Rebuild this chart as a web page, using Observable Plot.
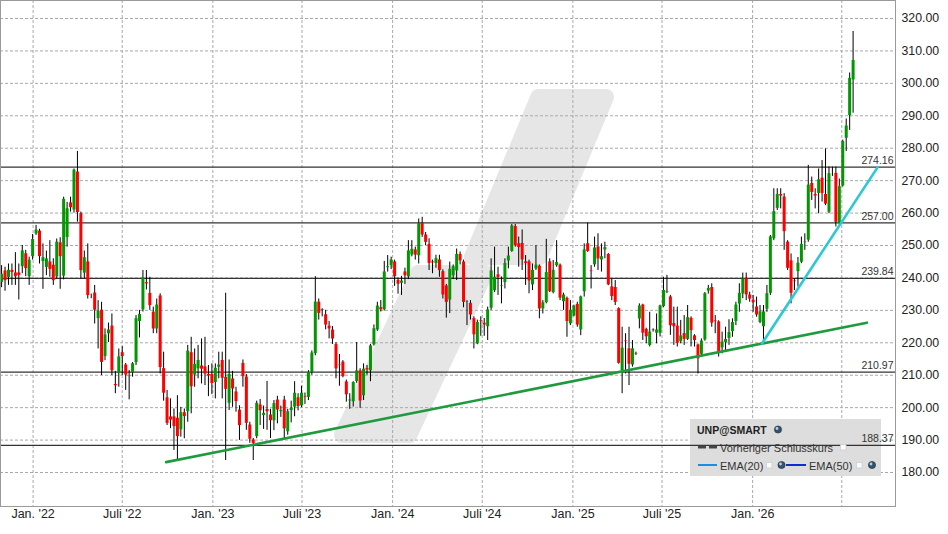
<!DOCTYPE html>
<html>
<head>
<meta charset="utf-8">
<script src="https://cdn.jsdelivr.net/npm/d3@7"></script>
<script src="https://cdn.jsdelivr.net/npm/@observablehq/plot@0.6"></script>
<style>
html, body { margin: 0; padding: 0; background: #fff; }
#chart { width: 948px; height: 534px; position: relative; overflow: hidden; }
</style>
</head>
<body>
<div id="chart"></div>
<script>
// ---- weekly candles (UNP), first week ending 2021-10-29 ----
const firstWeek = "2021-10-29";

const open = [
238.4,242.3,240.0,242.5,241.7,241.7,243.3,247.6,240.2,246.4,
253.4,254.6,244.9,243.1,245.1,244.1,240.2,251.0,240.4,252.3,
263.3,260.8,272.8,260.0,241.3,245.1,234.1,235.5,227.3,230.2,
215.6,222.6,225.3,207.3,210.4,217.1,213.3,209.4,210.6,213.7,
226.4,230.0,238.7,235.4,229.6,224.1,234.6,212.2,203.2,197.3,
197.3,196.9,193.0,198.6,198.6,217.1,209.9,211.8,213.0,212.7,
210.4,210.4,207.6,212.3,214.7,209.5,201.2,209.0,205.0,199.4,
213.8,209.6,194.8,190.2,190.9,201.0,197.4,199.6,197.9,195.8,
202.5,198.6,202.5,192.4,198.9,200.0,203.2,200.4,203.5,203.0,
210.7,216.5,232.7,230.3,228.8,225.3,224.1,219.6,212.8,214.2,
208.1,201.9,201.7,207.9,211.5,203.5,212.2,211.2,219.2,223.8,
231.0,230.0,243.0,243.6,245.1,239.4,238.2,242.0,240.2,246.9,
248.8,246.7,257.0,253.4,250.5,245.1,244.3,245.7,242.1,237.7,
233.0,240.5,242.0,247.4,245.1,232.7,232.3,
227.6,219.5,226.9,226.2,224.8,230.5,235.9,241.1,237.2,238.4,
245.1,248.0,256.0,250.7,250.8,245.1,245.1,237.7,242.6,243.8,
230.3,232.2,245.1,235.3,243.6,244.1,232.5,233.9,225.7,228.1,
232.0,223.8,235.6,250.7,242.3,243.9,249.7,245.4,248.5,247.4,
237.4,237.2,230.7,211.3,220.7,218.3,213.0,216.9,227.2,231.8,
224.3,219.0,224.1,222.8,222.8,231.0,235.9,234.3,226.1,225.3,
220.2,223.0,220.9,227.7,222.3,219.5,
216.3,220.7,235.8,237.2,226.9,226.6,218.3,219.9,221.2,223.3,
226.4,231.8,234.9,239.9,234.9,233.3,231.2,226.1,224.8,230.2,
235.1,251.9,261.3,265.9,265.1,251.2,245.4,239.2,241.8,244.7,
250.7,251.5,269.3,265.9,265.9,270.9,265.9,260.1,272.3,272.4,
256.7,268.2,282.9,289.9,300.9
];

const high = [
243.8,243.3,244.3,244.3,247.8,244.3,250.0,248.5,246.4,253.4,
256.2,255.0,250.5,248.3,251.5,245.9,252.0,252.4,264.9,263.3,
264.9,273.6,279.0,260.3,248.3,250.5,235.0,237.7,233.0,232.5,
224.3,226.1,228.9,211.2,218.1,218.8,213.6,211.5,213.9,228.4,
230.0,242.3,242.3,240.2,231.0,233.5,235.1,217.1,205.3,202.7,
199.6,203.7,200.1,199.6,219.2,221.7,218.1,219.2,221.2,221.7,
213.0,213.5,213.5,217.1,217.1,235.3,214.7,211.2,206.3,200.6,
214.7,210.2,195.5,190.5,202.0,202.5,200.5,208.1,199.5,202.2,
203.5,200.5,203.5,199.5,202.0,208.0,204.3,206.6,204.5,211.4,
217.5,240.4,233.5,230.5,230.0,226.6,225.0,220.0,216.4,214.5,
208.5,204.3,208.0,220.1,212.0,213.5,213.0,219.5,225.5,232.5,
233.0,245.1,246.9,246.4,245.5,240.0,240.5,243.0,251.5,251.5,
249.5,258.2,258.7,254.0,252.1,245.5,247.0,247.0,242.5,238.0,
244.9,244.0,248.9,248.0,245.5,233.0,233.0,
228.0,227.0,228.0,227.5,231.0,245.9,249.5,243.3,240.3,245.9,
249.5,256.5,256.5,252.6,254.8,246.9,245.5,244.3,250.0,244.0,
233.0,251.9,245.9,245.4,251.5,244.3,235.3,234.1,233.0,231.6,
232.5,234.4,250.5,256.9,243.8,252.6,253.6,250.5,251.0,247.5,
239.7,239.2,230.8,224.8,222.8,224.8,220.7,217.1,232.0,231.9,
224.5,229.4,224.3,228.9,231.6,240.2,240.8,234.6,231.0,231.0,
226.9,228.4,231.5,228.0,222.5,219.6,
221.2,235.5,237.7,238.2,228.4,226.8,223.3,224.8,227.1,227.4,
232.5,238.2,241.5,241.5,235.6,234.6,234.1,231.5,231.5,237.7,
253.1,267.5,267.5,267.5,266.0,251.5,247.4,239.7,246.3,252.6,
253.6,274.7,271.1,267.5,273.6,276.2,279.8,274.2,274.2,274.2,
270.5,282.5,289.0,303.2,316.0
];

const low = [
237.0,235.9,237.7,237.7,237.7,233.2,241.3,240.4,237.7,245.5,
253.1,244.3,236.5,240.7,240.2,237.7,239.7,236.5,239.4,249.5,
260.3,260.0,257.2,239.7,239.7,233.5,233.6,225.8,218.1,209.9,
214.5,220.1,209.9,204.3,206.3,209.9,205.3,202.4,209.4,213.0,
221.5,229.5,236.3,230.0,222.8,222.8,210.4,202.0,194.5,193.5,
186.8,183.7,190.9,190.4,195.5,198.1,206.3,208.9,207.3,206.8,
203.4,204.0,202.7,208.9,202.7,183.7,199.1,200.1,198.6,189.9,
206.3,193.0,189.0,183.7,190.4,194.5,193.3,193.0,190.5,192.9,
195.0,197.0,190.4,191.5,195.3,197.2,199.0,200.0,201.0,202.2,
210.0,216.0,227.0,228.0,224.0,221.2,219.5,208.9,206.6,209.2,
201.7,199.5,200.2,207.5,199.8,202.2,210.0,208.0,219.0,223.5,
229.5,229.8,241.8,242.6,237.4,235.0,234.6,238.0,239.5,246.5,
245.5,244.3,252.5,250.0,242.3,241.3,243.0,240.2,233.5,227.6,
229.0,239.5,239.2,244.0,230.8,225.3,227.0,
218.1,219.4,222.0,222.0,220.7,230.0,235.5,234.6,232.0,236.6,
242.8,247.9,249.5,243.3,242.3,237.7,235.1,236.1,242.3,227.4,
228.9,232.0,235.5,235.1,243.3,233.0,230.0,221.7,225.3,228.0,
224.8,222.2,234.1,247.9,236.6,243.3,242.3,241.8,245.9,237.6,
233.0,231.5,213.4,204.3,210.4,206.8,212.5,216.1,224.3,220.7,
219.7,218.7,223.3,219.7,221.8,230.8,235.2,222.3,219.2,218.7,
219.7,219.2,220.7,218.7,218.7,210.4,
215.5,220.5,235.0,224.8,222.8,215.6,216.6,217.1,219.2,221.7,
225.3,229.4,233.6,233.0,232.5,229.4,227.9,225.9,220.7,229.4,
234.6,251.5,260.8,261.3,248.5,242.3,232.0,236.1,237.2,244.4,
248.5,251.0,263.9,261.3,259.8,263.4,262.3,259.8,271.3,255.7,
255.7,268.0,279.0,285.5,290.8
];

const close = [
241.3,239.0,242.5,241.5,240.2,240.6,248.5,242.7,245.6,252.0,
254.9,246.4,246.4,246.0,242.5,239.0,251.2,246.4,264.4,261.5,
261.5,273.4,260.0,242.1,246.4,234.4,234.4,229.9,229.9,213.8,
222.6,224.1,211.2,206.6,215.8,215.6,209.9,209.9,213.7,227.6,
228.9,240.2,238.0,231.3,224.1,231.8,212.2,204.3,195.0,196.0,
194.0,190.9,198.6,197.1,217.6,206.3,213.5,214.7,211.7,210.2,
209.6,207.3,212.3,213.3,208.9,205.5,210.4,205.6,201.7,194.3,
209.4,195.0,190.1,188.8,201.5,198.9,198.4,198.6,195.8,201.4,
199.1,199.3,193.3,198.9,199.9,204.6,200.2,204.6,203.0,211.0,
217.0,232.7,228.9,229.8,225.3,224.1,221.0,211.8,213.3,209.4,
203.8,202.5,207.9,211.5,201.9,212.0,211.5,219.2,224.5,231.5,
230.0,242.0,243.6,245.7,240.2,237.9,239.2,240.5,248.5,249.0,
246.9,257.0,253.1,250.8,244.3,244.5,246.1,242.1,234.6,232.3,
242.8,243.6,247.4,245.1,232.3,232.3,228.4,
222.3,226.4,226.4,225.3,230.3,242.3,240.4,240.0,237.7,244.6,
246.9,256.2,249.8,249.2,245.4,244.3,238.9,242.5,244.1,230.3,
232.5,241.8,235.6,242.5,244.9,233.6,234.9,226.4,230.2,231.5,
225.3,234.3,248.8,248.0,241.8,249.4,245.7,246.7,249.5,237.7,
234.1,232.3,213.5,218.5,220.2,213.2,218.3,216.4,231.5,222.8,
221.7,223.5,223.6,224.1,231.5,236.3,235.4,225.1,224.8,219.7,
222.3,220.9,227.9,223.6,220.5,214.9,
220.7,235.3,236.9,225.9,226.4,216.6,220.4,221.2,223.3,226.4,
231.8,235.4,239.9,234.6,233.3,232.2,228.4,229.7,229.7,235.3,
252.8,260.6,265.9,265.1,254.1,242.8,235.1,238.7,244.7,250.5,
251.2,268.8,266.2,265.1,270.4,265.9,262.6,272.3,272.6,257.0,
268.3,282.2,287.0,301.7,307.2
];

// horizontal support / resistance levels
const supportLevels = [274.16, 257.00, 239.84, 210.97, 188.37];

// axis ticks
const yTicks = [180, 190, 200, 210, 220, 230, 240, 250, 260, 270, 280, 290, 300, 310, 320];
const xGridDates = ["2022-01-01","2022-07-01","2023-01-01","2023-07-01","2024-01-01","2024-07-01","2025-01-01","2025-07-01","2026-01-01","2026-07-01"];
const xTickLabels = ["Jan. '22","Juli '22","Jan. '23","Juli '23","Jan. '24","Juli '24","Jan. '25","Juli '25","Jan. '26",""];

// trend lines (drawn by the analyst)
const greenTrendDates = ["2022-09-28", "2026-08-21"];
const greenTrendValues = [183.2, 226.2];
const cyanTrendDates = ["2026-01-20", "2026-09-12"];
const cyanTrendValues = [219.8, 274.16];

// background logo watermark (two slanted pieces), in chart coordinates
const wmUpperValues = [295.64, 246.30];
const wmUpperLeft  = ["2024-10-23T19:00:00Z", "2024-06-11T00:00:00Z"];
const wmUpperRight = ["2025-03-10T07:00:00Z", "2024-10-26T10:00:00Z"];
const wmLowerValues = [241.37, 191.41];
const wmLowerLeft  = ["2024-02-22T17:00:00Z", "2023-09-21T05:00:00Z"];
const wmLowerRight = ["2024-07-08T10:00:00Z", "2024-02-04T22:00:00Z"];

// ---- build tables ----
const DAY = 864e5;
const t0 = Date.parse(firstWeek + "T00:00:00Z");
const candles = open.map((o, i) => ({
  date: new Date(t0 + i * 7 * DAY),
  open: o, high: high[i], low: low[i], close: close[i]
}));
const upCandles = candles.filter(d => d.close >= d.open);
const downCandles = candles.filter(d => d.close < d.open);
const xTicks = xGridDates.map((d, i) => ({date: new Date(d + "T00:00:00Z"), label: xTickLabels[i]}));
const greenTrend = greenTrendDates.map((d, i) => ({date: new Date(d + "T00:00:00Z"), value: greenTrendValues[i]}));
const cyanTrend = cyanTrendDates.map((d, i) => ({date: new Date(d + "T00:00:00Z"), value: cyanTrendValues[i]}));
const wmUpper = wmUpperValues.map((v, i) => ({value: v, left: new Date(wmUpperLeft[i]), right: new Date(wmUpperRight[i])}));
const wmLower = wmLowerValues.map((v, i) => ({value: v, left: new Date(wmLowerLeft[i]), right: new Date(wmLowerRight[i])}));

const FONT = "'Liberation Sans', Arial, Helvetica, sans-serif";
const GREEN = "#039603", RED = "#ff0000";
const WM = "#e6e6e6";

// legend panel (decoration inside the plot area)
function legendPanel() {
  const g = d3.create("svg:g");
  g.append("rect").attr("x", 690).attr("y", 419).attr("width", 191).attr("height", 57).attr("fill", "#dddddd");
  return g.node();
}
function globe(g, cx, cy) {
  g.append("circle").attr("cx", cx).attr("cy", cy).attr("r", 3.6).attr("fill", "#35536e").attr("stroke", "#1d2c3a").attr("stroke-width", 0.6);
  g.append("circle").attr("cx", cx - 1).attr("cy", cy - 1).attr("r", 1.4).attr("fill", "#b9cfe0");
}
function box(g, x, y) {
  g.append("rect").attr("x", x + 0.5).attr("y", y + 0.5).attr("width", 5.5).attr("height", 5.5).attr("fill", "#fbfbfb").attr("stroke", "#cfcfcf").attr("stroke-width", 0.8);
}
function legendContent() {
  const g = d3.create("svg:g").attr("font-family", FONT).attr("text-anchor", "start");
  g.append("text").attr("x", 697).attr("y", 433.5).attr("font-size", 10.5).attr("font-weight", "bold").attr("fill", "#222").text("UNP@SMART");
  globe(g, 778, 429.5);
  g.append("line").attr("x1", 698).attr("x2", 706).attr("y1", 447).attr("y2", 447).attr("stroke", "#444").attr("stroke-width", 3);
  g.append("line").attr("x1", 709).attr("x2", 717).attr("y1", 447).attr("y2", 447).attr("stroke", "#444").attr("stroke-width", 3);
  g.append("text").attr("x", 720).attr("y", 451.5).attr("font-size", 11).attr("fill", "#333").text("Vorheriger Schlusskurs");
  box(g, 840, 444);
  g.append("line").attr("x1", 698).attr("x2", 717).attr("y1", 465).attr("y2", 465).attr("stroke", "#1b8fe3").attr("stroke-width", 2);
  g.append("text").attr("x", 720).attr("y", 469.5).attr("font-size", 11).attr("fill", "#333").text("EMA(20)");
  box(g, 766, 462);
  globe(g, 781.5, 465);
  g.append("line").attr("x1", 786).attr("x2", 806).attr("y1", 465).attr("y2", 465).attr("stroke", "#0d2fd0").attr("stroke-width", 2);
  g.append("text").attr("x", 809).attr("y", 469.5).attr("font-size", 11).attr("fill", "#333").text("EMA(50)");
  box(g, 856, 462);
  globe(g, 872, 465);
  return g.node();
}

const chart = Plot.plot({
  width: 948,
  height: 534,
  marginLeft: 0,
  marginRight: 53,
  marginTop: 0,
  marginBottom: 28,
  x: {type: "utc", domain: [new Date(Date.UTC(2021, 9, 26, 19)), new Date(Date.UTC(2026, 9, 18, 2))], axis: null},
  y: {domain: [169.52, 325.55], axis: null},
  style: {fontFamily: FONT, background: "#fff", color: "#222", overflow: "visible"},
  marks: [
    // watermark logo
    Plot.areaX(wmUpper, {y: "value", x1: "left", x2: "right", fill: WM, stroke: WM, strokeWidth: 16, strokeLinejoin: "round"}),
    Plot.areaX(wmLower, {y: "value", x1: "left", x2: "right", fill: WM, stroke: WM, strokeWidth: 16, strokeLinejoin: "round"}),
    // grid
    Plot.ruleY(yTicks, {stroke: "#a9a9a9", strokeWidth: 1, strokeDasharray: "3,2"}),
    Plot.ruleX(xTicks, {x: "date", stroke: "#a9a9a9", strokeWidth: 1, strokeDasharray: "3,2"}),
    legendPanel,
    // support levels
    Plot.ruleY(supportLevels, {stroke: "#333", strokeWidth: 1.3}),
    Plot.text(supportLevels, {y: d => d, text: d => d.toFixed(2), frameAnchor: "right", textAnchor: "end", dx: -2, dy: -6.5, fontSize: 10.5, fill: "#333"}),
    // candles
    Plot.ruleX(candles, {x: "date", y1: "low", y2: "high", stroke: "#000", strokeWidth: 1}),
    Plot.ruleX(upCandles, {x: "date", y1: "open", y2: "close", stroke: GREEN, strokeWidth: 3, insetTop: -0.5, insetBottom: -0.5}),
    Plot.ruleX(downCandles, {x: "date", y1: "close", y2: "open", stroke: RED, strokeWidth: 3, insetTop: -0.5, insetBottom: -0.5}),
    // trend lines
    Plot.line(greenTrend, {x: "date", y: "value", stroke: "#1f9a3e", strokeWidth: 2.6}),
    Plot.line(cyanTrend, {x: "date", y: "value", stroke: "#2cc9d5", strokeWidth: 2.6}),
    // axes labels
    Plot.text(yTicks, {y: d => d, text: d => d.toFixed(2), frameAnchor: "right", textAnchor: "start", dx: 6, fontSize: 12.3, fill: "#222"}),
    Plot.text(xTicks, {x: "date", text: "label", frameAnchor: "bottom", dy: 11, fontSize: 12.5, fill: "#222"}),
    Plot.frame({stroke: "#9a9a9a"}),
    legendContent
  ]
});

document.getElementById("chart").appendChild(chart);
</script>
</body>
</html>
